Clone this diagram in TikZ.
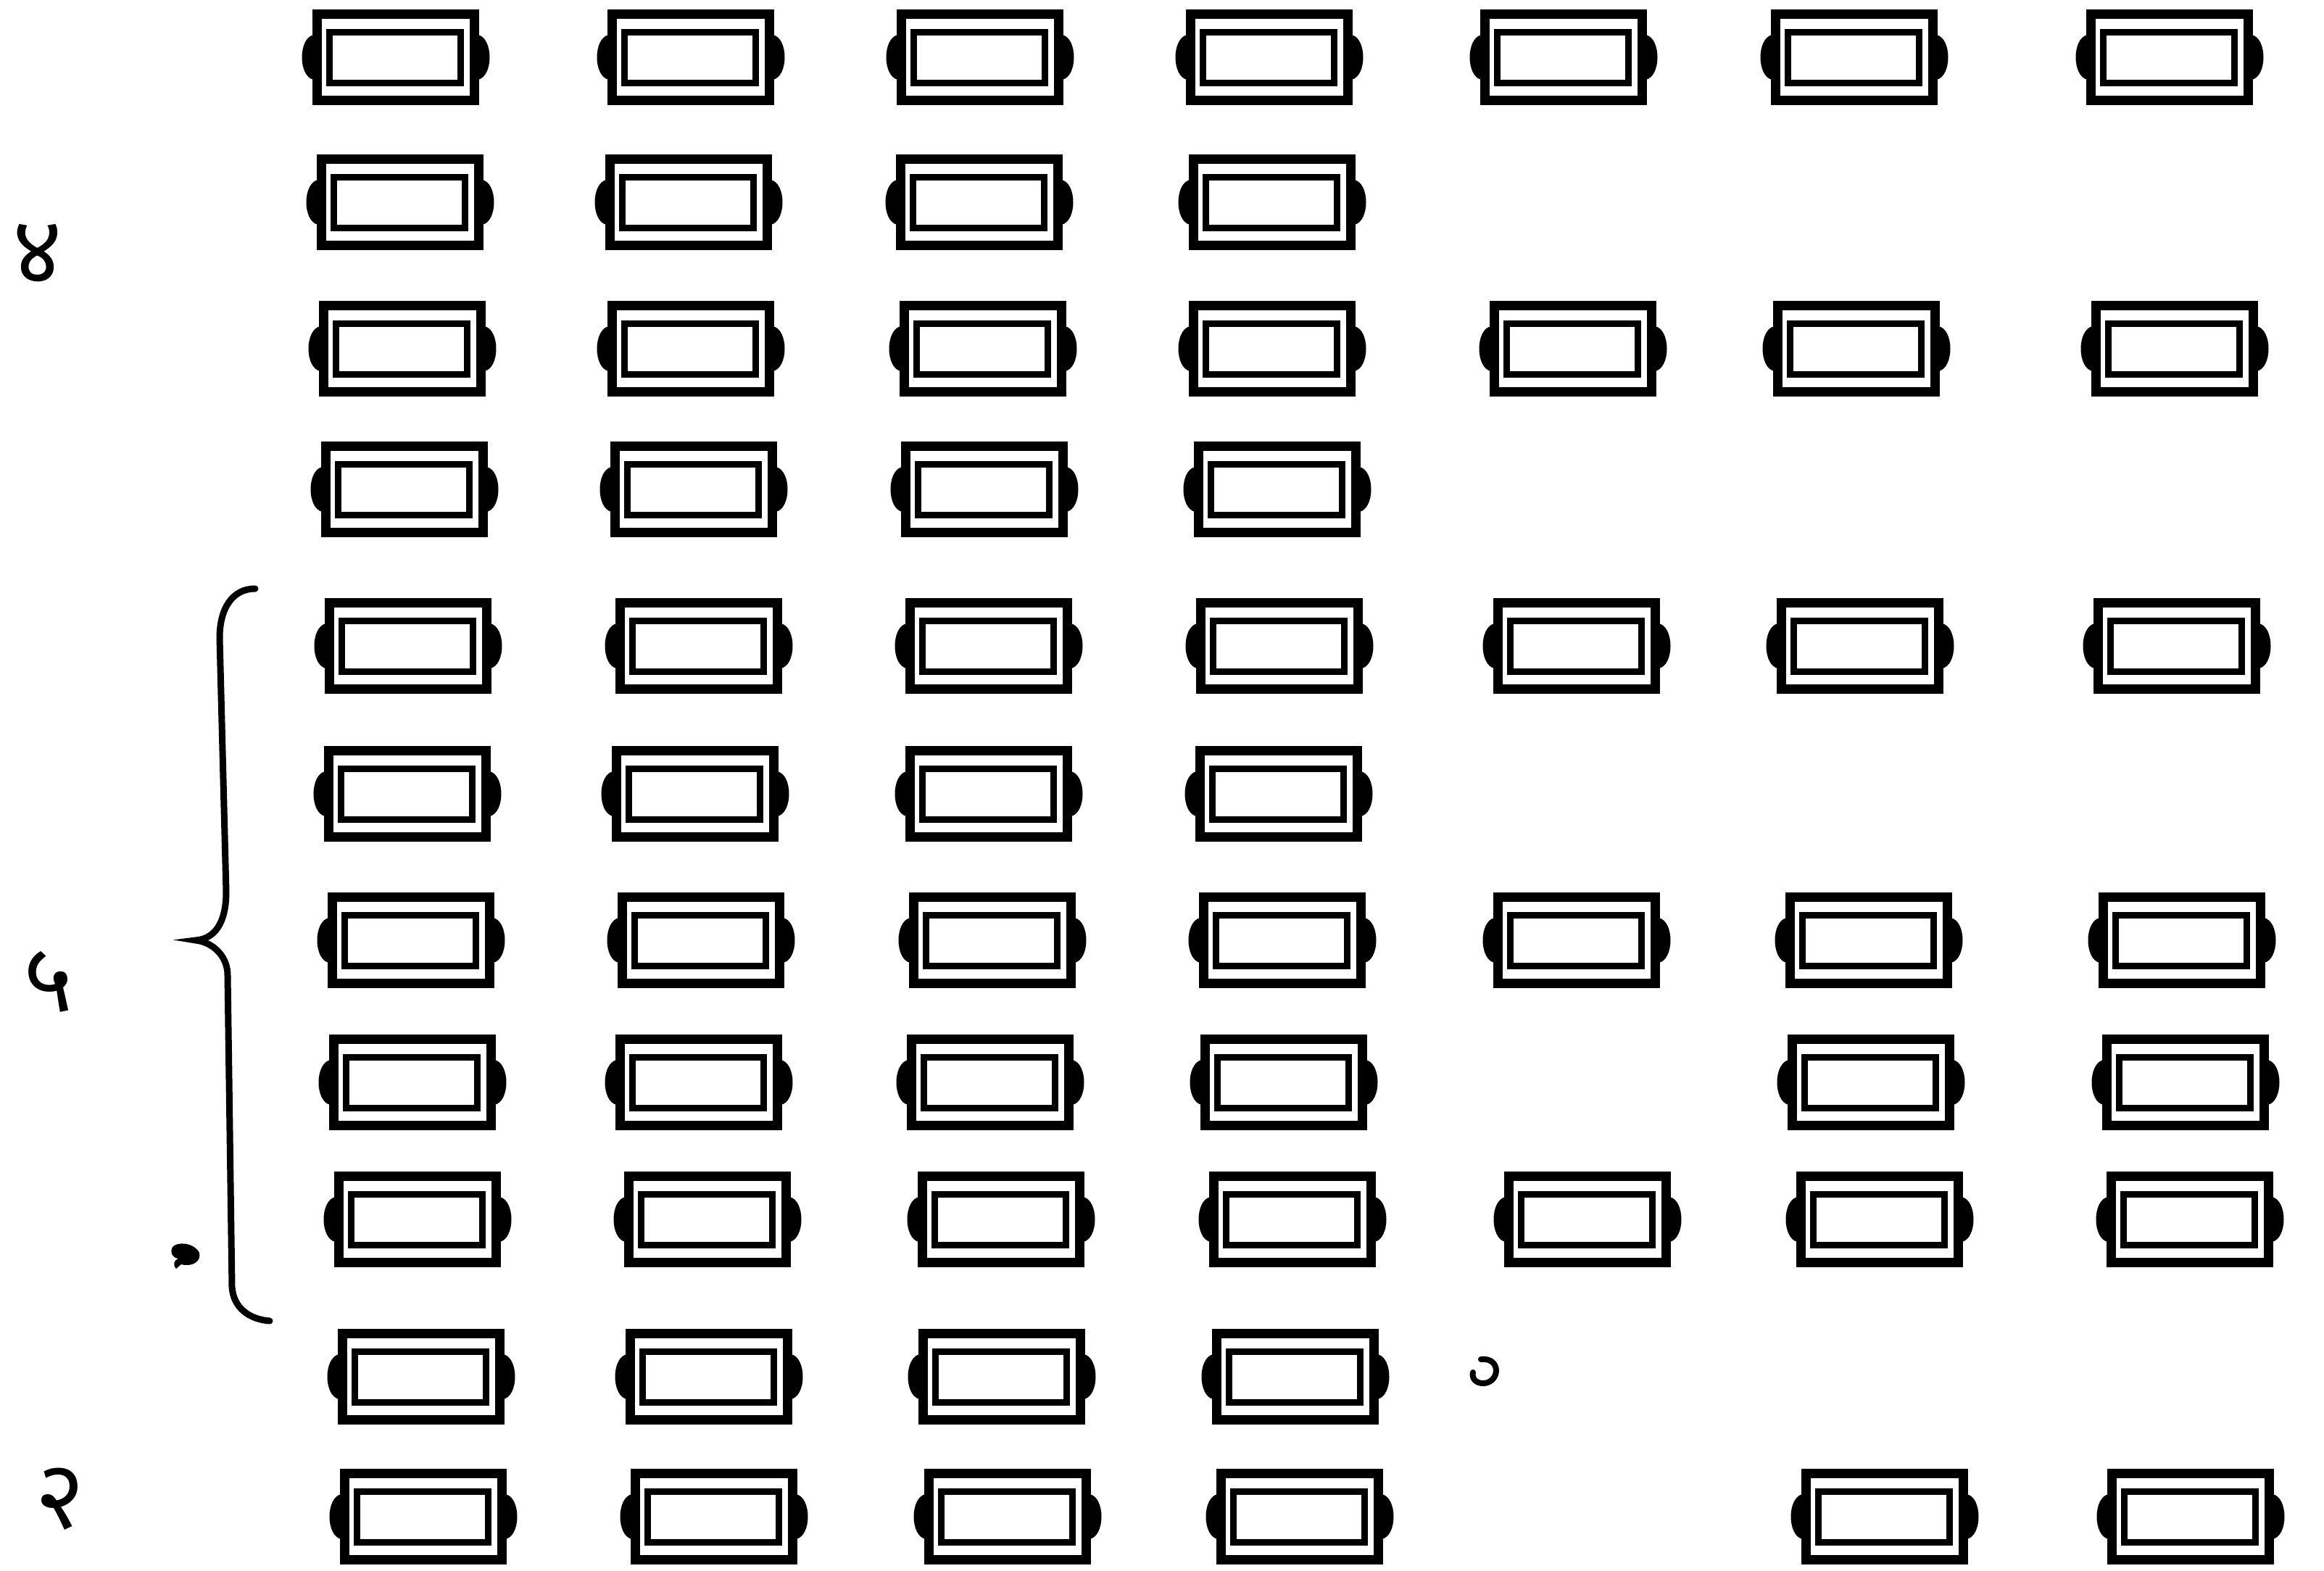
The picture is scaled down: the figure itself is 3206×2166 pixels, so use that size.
\documentclass[tikz,border=0pt]{standalone}
\usepackage{fontspec}
\newfontfamily\devfont[Script=Devanagari]{Noto Sans}
\tikzset{
  x=0.25pt, y=-0.25pt,
  outerbox/.style={draw, line width=3.25pt, minimum width=54.25pt, minimum height=29.75pt, inner sep=0pt, rectangle},
  innerbox/.style={draw, line width=2.25pt, minimum width=45.25pt, minimum height=17.5pt, inner sep=0pt, rectangle},
  digit/.style={font=\devfont\fontsize{33}{33}\selectfont, inner sep=0pt},
  cell/.pic={
    \node[outerbox] (-o) at (0,0) {};
    \node[innerbox] (-i) at (-1,0) {};
    \fill (-113,-31) .. controls (-135,-27) and (-135,27) .. (-113,31) -- cycle;
    \fill (113,-31) .. controls (135,-27) and (135,27) .. (113,31) -- cycle;
  }
}
\begin{document}
\begin{tikzpicture}
\useasboundingbox (0,0) rectangle (3206,2166);
% row 1
\foreach \cx/\n in {546/1, 953/2, 1352/3, 1751/4, 2157/5, 2558/6, 2993/7}
  \pic (r1c\n) at (\cx,79) {cell};
% row 2
\foreach \cx/\n in {552/1, 950/2, 1351/3, 1755/4}
  \pic (r2c\n) at (\cx,279) {cell};
% row 3
\foreach \cx/\n in {555/1, 953/2, 1356/3, 1755/4, 2170/5, 2561/6, 3000/7}
  \pic (r3c\n) at (\cx,481) {cell};
% row 4
\foreach \cx/\n in {558/1, 957/2, 1358/3, 1762/4}
  \pic (r4c\n) at (\cx,675) {cell};
% row 5
\foreach \cx/\n in {563/1, 964/2, 1364/3, 1765/4, 2175/5, 2566/6, 3003/7}
  \pic (r5c\n) at (\cx,891) {cell};
% row 6
\foreach \cx/\n in {562/1, 959/2, 1364/3, 1764/4}
  \pic (r6c\n) at (\cx,1095) {cell};
% row 7
\foreach \cx/\n in {567/1, 967/2, 1369/3, 1769/4, 2175/5, 2578/6, 3010/7}
  \pic (r7c\n) at (\cx,1297) {cell};
% row 8
\foreach \cx/\n in {569/1, 964/2, 1366/3, 1771/4, 2581/6, 3015/7}
  \pic (r8c\n) at (\cx,1493) {cell};
% row 9
\foreach \cx/\n in {576/1, 976/2, 1381/3, 1783/4, 2190/5, 2593/6, 3021/7}
  \pic (r9c\n) at (\cx,1682) {cell};
% row 10
\foreach \cx/\n in {581/1, 978/2, 1382/3, 1787/4}
  \pic (r10c\n) at (\cx,1899) {cell};
% row 11
\foreach \cx/\n in {584/1, 985/2, 1390/3, 1793/4, 2600/6, 3022/7}
  \pic (r11c\n) at (\cx,2092) {cell};
% labels
\node[digit] (l4) at (52,350) {४};
\node[digit] (l5) at (67,1354) {५};
\node[digit] (l2) at (83,2068) {२};
% brace
\draw[line width=2.25pt, line cap=round]
  (352,812) .. controls (320,812) and (303,840) .. (303,880)
  -- (312,1230) .. controls (312,1275) and (295,1295) .. (270,1297)
  .. controls (295,1300) and (314,1320) .. (314,1345)
  -- (320,1775) .. controls (322,1805) and (345,1820) .. (372,1822);
% small marks
\fill (238,1720) .. controls (245,1712) and (268,1714) .. (275,1728)
  .. controls (278,1740) and (265,1748) .. (250,1744)
  -- (243,1750) .. controls (238,1745) and (240,1738) .. (246,1736)
  .. controls (238,1735) and (234,1728) .. (238,1720) -- cycle;
\draw[line width=2pt, line cap=round] (2043,1875) .. controls (2070,1872) and (2070,1905) .. (2048,1908)
  .. controls (2035,1909) and (2030,1900) .. (2032,1893);
\end{tikzpicture}
\end{document}
